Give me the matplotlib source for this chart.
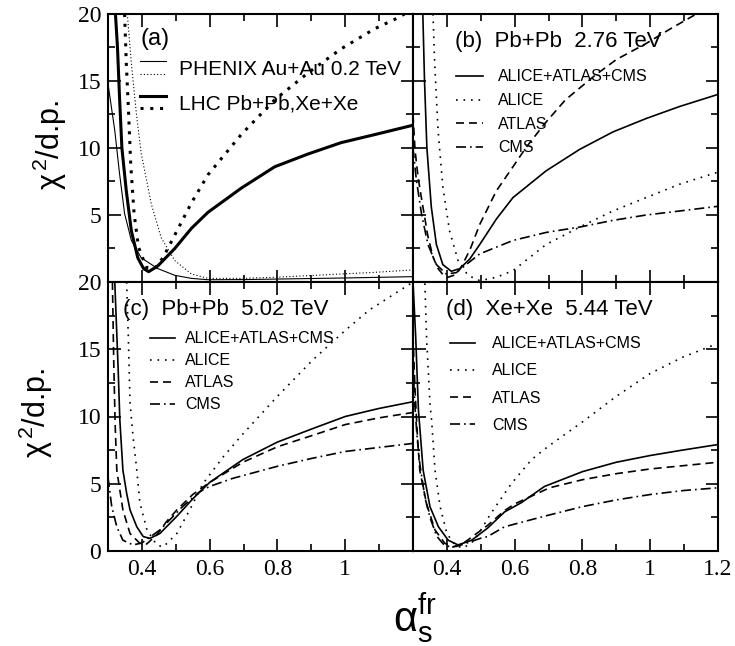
# chi^2/d.p. vs alpha_s^fr -- four panels (a)-(d)
import matplotlib
matplotlib.use("Agg")
import matplotlib.pyplot as plt
from matplotlib.ticker import MultipleLocator
from matplotlib.lines import Line2D
from matplotlib.legend_handler import HandlerBase

plt.rcParams['font.family'] = ['Liberation Sans', 'DejaVu Sans']
plt.rcParams['mathtext.fontset'] = 'custom'
plt.rcParams['mathtext.rm'] = 'Liberation Sans'
plt.rcParams['mathtext.it'] = 'Liberation Sans:italic'
plt.rcParams['mathtext.bf'] = 'Liberation Sans:bold'

# ==============================
# DATOS
# ==============================
# (a) PHENIX Au+Au 0.2 TeV / LHC
a_phx_sol_x = [0.30, 0.32, 0.334, 0.349, 0.369, 0.398, 0.447, 0.497, 0.546, 0.595, 0.70, 0.80, 0.90, 1.00, 1.10, 1.20]
a_phx_sol_y = [14.8, 11.3, 8.1, 5.1, 3.1, 1.8, 1.0, 0.5, 0.27, 0.17, 0.18, 0.22, 0.26, 0.30, 0.35, 0.40]
a_phx_dot_x = [0.357, 0.369, 0.384, 0.398, 0.428, 0.457, 0.497, 0.546, 0.595, 0.693, 0.79, 0.89, 0.99, 1.087, 1.20]
a_phx_dot_y = [20.0, 16.3, 12.5, 9.6, 5.8, 3.3, 1.6, 0.6, 0.27, 0.27, 0.35, 0.47, 0.60, 0.72, 0.90]
a_lhc_sol_x = [0.322, 0.328, 0.334, 0.341, 0.354, 0.369, 0.388, 0.405, 0.42, 0.447, 0.497, 0.546, 0.595, 0.693, 0.792, 0.89, 0.988, 1.087, 1.20]
a_lhc_sol_y = [20.0, 17.5, 13.8, 10.0, 6.8, 3.8, 1.8, 1.0, 0.77, 1.2, 2.5, 4.0, 5.2, 7.0, 8.6, 9.55, 10.4, 11.0, 11.7]
a_lhc_dot_x = [0.349, 0.354, 0.361, 0.367, 0.377, 0.39, 0.413, 0.438, 0.462, 0.497, 0.546, 0.595, 0.693, 0.792, 0.89, 0.988, 1.087, 1.146, 1.175]
a_lhc_dot_y = [20.0, 16.3, 12.5, 8.8, 5.1, 2.6, 1.1, 1.0, 1.8, 3.5, 5.9, 8.0, 11.0, 13.6, 15.6, 17.4, 18.9, 19.6, 20.0]

# (b) Pb+Pb 2.76 TeV
b_all_x = [0.329, 0.334, 0.341, 0.354, 0.369, 0.388, 0.413, 0.438, 0.467, 0.497, 0.546, 0.595, 0.693, 0.792, 0.89, 0.988, 1.087, 1.20]
b_all_y = [20.0, 15.0, 10.0, 5.6, 2.8, 1.3, 0.8, 1.0, 1.7, 2.8, 4.7, 6.3, 8.3, 9.9, 11.2, 12.2, 13.1, 14.0]
b_alice_x = [0.359, 0.364, 0.374, 0.388, 0.408, 0.433, 0.462, 0.497, 0.546, 0.595, 0.693, 0.792, 0.89, 0.988, 1.087, 1.20]
b_alice_y = [20.0, 16.3, 11.3, 7.1, 3.8, 1.6, 0.5, 0.1, 0.35, 0.85, 2.8, 4.1, 5.3, 6.3, 7.3, 8.2]
b_atlas_x = [0.30, 0.306, 0.315, 0.326, 0.344, 0.36, 0.374, 0.39, 0.403, 0.42, 0.44, 0.468, 0.497, 0.546, 0.595, 0.634, 0.688, 0.75, 0.836, 0.90, 0.988, 1.06, 1.136]
b_atlas_y = [12.5, 9.85, 7.8, 6.1, 3.4, 1.8, 1.0, 0.5, 0.35, 0.5, 1.0, 2.4, 4.3, 6.8, 8.6, 10.05, 11.8, 13.6, 15.4, 16.6, 17.8, 18.9, 20.0]
b_cms_x = [0.30, 0.31, 0.325, 0.344, 0.369, 0.398, 0.428, 0.457, 0.497, 0.595, 0.693, 0.792, 0.89, 0.988, 1.087, 1.20]
b_cms_y = [10.0, 7.6, 5.1, 2.8, 1.3, 0.6, 0.7, 1.3, 2.1, 3.1, 3.7, 4.1, 4.6, 5.0, 5.3, 5.65]

# (c) Pb+Pb 5.02 TeV
c_all_x = [0.32, 0.33, 0.335, 0.344, 0.355, 0.365, 0.385, 0.404, 0.424, 0.453, 0.502, 0.551, 0.60, 0.698, 0.80, 0.904, 1.00, 1.10, 1.20]
c_all_y = [20.0, 13.5, 9.7, 6.0, 4.3, 3.05, 1.8, 1.07, 0.94, 1.3, 2.55, 3.9, 5.1, 6.8, 8.1, 9.1, 10.0, 10.6, 11.1]
c_alice_x = [0.355, 0.36, 0.365, 0.374, 0.385, 0.394, 0.415, 0.444, 0.463, 0.503, 0.541, 0.58, 0.64, 0.698, 0.80, 0.904, 1.00, 1.07, 1.20]
c_alice_y = [20.0, 15.9, 11.0, 8.5, 6.0, 3.6, 1.56, 0.45, 0.3, 1.3, 3.05, 5.0, 7.0, 8.7, 11.5, 14.2, 16.4, 17.9, 20.0]
c_atlas_x = [0.313, 0.317, 0.321, 0.326, 0.344, 0.365, 0.394, 0.414, 0.444, 0.473, 0.503, 0.55, 0.60, 0.698, 0.80, 0.904, 1.00, 1.10, 1.20]
c_atlas_y = [20.0, 14.0, 9.5, 6.0, 3.05, 1.3, 0.57, 0.52, 1.2, 2.2, 3.05, 4.2, 5.1, 6.6, 7.75, 8.6, 9.4, 9.9, 10.3]
c_cms_x = [0.30, 0.311, 0.326, 0.344, 0.374, 0.40, 0.453, 0.52, 0.57, 0.60, 0.668, 0.80, 0.904, 1.00, 1.10, 1.20]
c_cms_y = [5.5, 3.3, 1.8, 0.8, 0.45, 0.6, 1.56, 3.3, 4.4, 4.8, 5.4, 6.3, 6.9, 7.4, 7.7, 8.0]

# (d) Xe+Xe 5.44 TeV
d_all_x = [0.30, 0.308, 0.316, 0.33, 0.35, 0.375, 0.404, 0.433, 0.473, 0.52, 0.57, 0.62, 0.688, 0.80, 0.90, 1.00, 1.095, 1.196]
d_all_y = [20.0, 15.9, 10.5, 6.0, 3.3, 1.8, 0.8, 0.45, 0.8, 1.7, 2.9, 3.6, 4.8, 5.9, 6.6, 7.1, 7.5, 7.9]
d_alice_x = [0.335, 0.34, 0.35, 0.355, 0.365, 0.38, 0.40, 0.424, 0.448, 0.482, 0.53, 0.59, 0.65, 0.70, 0.80, 0.90, 1.00, 1.095, 1.196]
d_alice_y = [19.9, 15.9, 11.0, 9.7, 6.0, 3.3, 1.3, 0.45, 0.2, 0.8, 2.8, 5.0, 6.8, 7.8, 9.6, 11.5, 13.2, 14.4, 15.4]
d_atlas_x = [0.30, 0.306, 0.313, 0.32, 0.34, 0.365, 0.394, 0.418, 0.45, 0.52, 0.57, 0.60, 0.703, 0.80, 0.90, 1.00, 1.10, 1.20]
d_atlas_y = [16.0, 12.0, 8.5, 6.0, 3.5, 1.56, 0.57, 0.3, 0.6, 1.9, 3.0, 3.5, 4.7, 5.3, 5.75, 6.1, 6.35, 6.6]
d_cms_x = [0.30, 0.305, 0.312, 0.32, 0.335, 0.35, 0.37, 0.39, 0.41, 0.43, 0.46, 0.50, 0.52, 0.57, 0.60, 0.69, 0.80, 0.90, 1.00, 1.10, 1.20]
d_cms_y = [14.0, 11.0, 8.5, 6.5, 4.0, 2.5, 1.1, 0.5, 0.3, 0.35, 0.6, 0.95, 1.07, 1.8, 2.0, 2.6, 3.3, 3.8, 4.2, 4.5, 4.7]

# etiquetas
xtick_vals = [0.4, 0.6, 0.8, 1.0, 1.2]
xtick_left = ['0.4', '0.6', '0.8', '1', '']
xtick_right = ['0.4', '0.6', '0.8', '1', '1.2']
ytick_vals = [0, 5, 10, 15, 20]
ytick_top = ['', '5', '10', '15', '20']
ytick_bot = ['0', '5', '10', '15', '20']
exp_labels = ['ALICE+ATLAS+CMS', 'ALICE', 'ATLAS', 'CMS']
a_labels = ['PHENIX Au+Au 0.2 TeV', 'LHC Pb+Pb,Xe+Xe']

# ==============================
# ESTILOS
# ==============================
LW = 1.2
DOT = (0, (1, 3.5))
DASH = (0, (4.8, 3))
DASHDOT = (0, (6, 2.4, 1, 2.4))
TICKFONT = dict(family='Liberation Serif', size=17)


class PairHandler(HandlerBase):
    # dos lineas apiladas en la misma fila de la leyenda
    def create_artists(self, legend, orig_handle, xdescent, ydescent,
                       width, height, fontsize, trans):
        out = []
        for h, frac in zip(orig_handle, (0.95, 0.1)):
            ln = Line2D([-xdescent, -xdescent + width], [frac * height - ydescent] * 2)
            ln.update_from(h)
            ln.set_transform(trans)
            out.append(ln)
        return out


def estilo(ax, xlabels, ylabels, show_x):
    ax.set_xlim(0.3, 1.2)
    ax.set_ylim(0, 20)
    ax.xaxis.set_minor_locator(MultipleLocator(0.1))
    ax.yaxis.set_minor_locator(MultipleLocator(2.5))
    ax.set_xticks(xtick_vals)
    ax.set_yticks(ytick_vals)
    if show_x:
        ax.set_xticklabels(xlabels, fontdict=TICKFONT)
    else:
        ax.set_xticklabels([])
    if ylabels is None:
        ax.set_yticklabels([])
    else:
        ax.set_yticklabels(ylabels, fontdict=TICKFONT)
    ax.tick_params(which='both', direction='in', top=True, right=True, width=1.2)
    ax.tick_params(which='major', length=9)
    ax.tick_params(which='minor', length=5)
    ax.tick_params(axis='x', pad=6)
    ax.tick_params(axis='y', pad=5)
    for s in ax.spines.values():
        s.set_linewidth(1.5)


fig = plt.figure(figsize=(7.35, 6.46), dpi=100)
L, W = 108 / 735, 305 / 735
R = 413 / 735
axa = fig.add_axes([L, 1 - 282 / 646, W, 268 / 646])
axb = fig.add_axes([R, 1 - 282 / 646, W, 268 / 646])
axc = fig.add_axes([L, 1 - 551 / 646, W, 269 / 646])
axd = fig.add_axes([R, 1 - 551 / 646, W, 269 / 646])

# ---- (a)
h1, = axa.plot(a_phx_sol_x, a_phx_sol_y, color='black', lw=0.8)
h2, = axa.plot(a_phx_dot_x, a_phx_dot_y, color='black', lw=0.8, linestyle=(0, (1, 2)))
h3, = axa.plot(a_lhc_sol_x, a_lhc_sol_y, color='black', lw=2.2)
h4, = axa.plot(a_lhc_dot_x, a_lhc_dot_y, color='black', lw=2.2, linestyle=(0, (1, 2.2)))
axa.legend([(h1, h2), (h3, h4)], a_labels, handler_map={tuple: PairHandler()},
           loc='upper left', bbox_to_anchor=(0.105, 0.828), frameon=False,
           fontsize=15, handlelength=1.25, handletextpad=0.6, labelspacing=0.75,
           borderpad=0, borderaxespad=0)
axa.text(0.108, 0.907, '(a)', transform=axa.transAxes, fontsize=17, va='center', ha='left')
estilo(axa, xtick_left, ytick_top, False)

# ---- (b), (c), (d)
paneles = [
    (axb, [(b_all_x, b_all_y), (b_alice_x, b_alice_y), (b_atlas_x, b_atlas_y), (b_cms_x, b_cms_y)],
     '(b)  Pb+Pb  2.76 TeV', (0.138, 0.896), (0.141, 0.793), 0.54, 1.7, 0.95),
    (axc, [(c_all_x, c_all_y), (c_alice_x, c_alice_y), (c_atlas_x, c_atlas_y), (c_cms_x, c_cms_y)],
     '(c)  Pb+Pb  5.02 TeV', (0.049, 0.896), (0.138, 0.816), 0.43, 1.56, 0.63),
    (axd, [(d_all_x, d_all_y), (d_alice_x, d_alice_y), (d_atlas_x, d_atlas_y), (d_cms_x, d_cms_y)],
     '(d)  Xe+Xe  5.44 TeV', (0.108, 0.896), (0.121, 0.798), 0.76, 1.6, 1.06),
]
estilos = ['-', DOT, DASH, DASHDOT]
for ax, curvas, titulo, tpos, lpos, lsp, hl, htp in paneles:
    for (xs, ys), ls, lab in zip(curvas, estilos, exp_labels):
        ax.plot(xs, ys, color='black', lw=LW, linestyle=ls, label=lab)
    ax.text(tpos[0], tpos[1], titulo, transform=ax.transAxes, fontsize=16,
            va='center', ha='left')
    ax.legend(loc='upper left', bbox_to_anchor=lpos, frameon=False, fontsize=11.5,
              handlelength=hl, handletextpad=htp, labelspacing=lsp,
              borderpad=0, borderaxespad=0)

estilo(axb, xtick_right, None, False)
estilo(axc, xtick_left, ytick_bot, True)
estilo(axd, xtick_right, None, True)

# ejes
ylab = r'$\mathrm{\chi}^{\,2}$/d.p.'
fig.text(50 / 735, 1 - 145 / 646, ylab, rotation=90, fontsize=22, ha='center', va='center')
fig.text(36 / 735, 1 - 413 / 646, ylab, rotation=90, fontsize=22, ha='center', va='center')
fig.text(415 / 735, 1 - 618 / 646, r'$\mathrm{\alpha}_{\mathrm{s}}^{\mathrm{fr}}$',
         fontsize=30, ha='center', va='center')

fig.savefig('out.png', dpi=100)
